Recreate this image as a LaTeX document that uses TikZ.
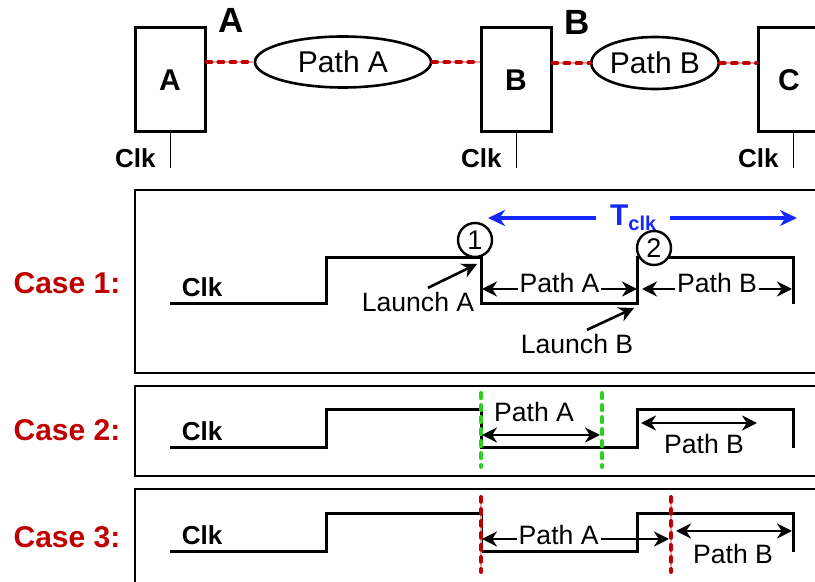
\documentclass[tikz,border=0pt]{standalone}
\usepackage{fontspec}
\setmainfont{Liberation Sans}
\usetikzlibrary{arrows.meta,shapes.geometric}

\definecolor{wirered}{RGB}{192,0,0}
\definecolor{tblue}{RGB}{20,40,255}
\definecolor{mkgreen}{RGB}{40,210,30}

\begin{document}
\begin{tikzpicture}[x=0.5pt, y=-0.5pt, >={Stealth[length=7.5pt, width=7.5pt, inset=2.4pt]},
    reg/.style={draw, line width=1.5pt, minimum width=35pt, minimum height=52pt, inner sep=0pt, font=\bfseries\fontsize{15}{18}\selectfont},
    pathell/.style={draw, ellipse, line width=1.3pt, inner sep=0pt, font=\fontsize{15}{18}\selectfont},
    wire/.style={wirered, line width=2pt, line cap=round, dash pattern=on 2.4pt off 3.6pt,
        preaction={draw=wirered!35, line width=0.6pt, solid}},
    gdash/.style={mkgreen, line width=2pt, line cap=round, dash pattern=on 2.6pt off 3.4pt},
    lead/.style={line width=0.5pt},
    clklbl/.style={font=\bfseries\fontsize{13}{15}\selectfont, inner sep=0pt},
    caselbl/.style={font=\bfseries\fontsize{15}{18}\selectfont, text=wirered},
    panel/.style={line width=1.4pt},
    wave/.style={line width=1.5pt},
    dim/.style={line width=1.3pt, <->},
    lbl/.style={font=\fontsize{13.3}{16}\selectfont, inner sep=1pt},
    circ/.style={draw, circle, fill=white, line width=1.2pt, minimum size=17pt, inner sep=0pt, font=\fontsize{13.5}{16}\selectfont}]

    \clip (0,0) rectangle (815,582);

    % Registers and paths
    \node[reg] (regA) at (170,80) {A};
    \node[reg] (regB) at (516,80) {B};
    \node[reg] (regC) at (793,80) {\hspace*{-4pt}C};
    \node[pathell, minimum width=88pt, minimum height=25.5pt] (pA) at (343,62) {Path A};
    \node[pathell, minimum width=63pt, minimum height=26pt] (pB) at (655,63) {Path B};
    \node[font=\bfseries\fontsize{17.5}{20}\selectfont] (lblA) at (231,20) {A};
    \node[font=\bfseries\fontsize{17.5}{20}\selectfont] (lblB) at (577,22) {B};

    % Dashed wires
    \draw[wire] (regA.east |- pA.west) -- (pA.west);
    \draw[wire] (pA.east) -- (regB.west |- pA.east);
    \draw[wire] (regB.east |- pB.west) -- (pB.west);
    \draw[wire] (pB.east) -- (regC.west |- pB.east);

    % Clock leads
    \foreach \r in {regA, regB, regC} {
        \draw[lead] (\r.south) -- ++(0,35) node[pos=0.72, left=7pt, clklbl] (clk\r) {Clk};
    }

    % Panels
    \draw[panel] (135,190) rectangle (840,373);
    \draw[panel] (135,386) rectangle (840,476);
    \draw[panel] (135,489) rectangle (840,600);
    \node[caselbl] (case1) at (67,283) {Case 1:};
    \node[caselbl] (case2) at (67,430) {Case 2:};
    \node[caselbl] (case3) at (67,537) {Case 3:};

    % Clock waveforms
    \foreach \lo/\hi/\n in {304/258/1, 448/410/2, 552/514/3} {
        \draw[wave] (170,\lo) -- (326,\lo) -- (326,\hi) -- (481,\hi) -- (481,\lo)
            -- (637,\lo) -- (637,\hi) -- (793,\hi) -- (793,\lo);
        \node[clklbl] (wclk\n) at (202,{\lo-17}) {Clk};
    }

    % Case 1
    \draw[tblue, line width=1.6pt, <->, >={Stealth[length=8.5pt, width=8pt, inset=2.7pt]}] (488,218) -- (797,218)
        node[pos=0.47, fill=white, inner xsep=7pt, inner ysep=2pt, font=\bfseries\fontsize{15}{18}\selectfont] (tclk)
        {T\raisebox{-2.5pt}{\fontsize{10}{12}\selectfont clk}};
    \node[circ] (edge1) at (475,240) {1};
    \node[circ] (edge2) at (654,248) {2};
    \node[lbl] (launchA) at (418,302) {Launch A};
    \node[lbl] (launchB) at (577,344) {Launch B};
    \coordinate (fallA) at (481,258);
    \coordinate (riseB) at (637,304);
    \draw[line width=1.3pt, ->] ([xshift=5pt, yshift=1pt]launchA.north) -- ([shift={(-4,6)}]fallA);
    \draw[line width=1.3pt, ->] ([xshift=5pt, yshift=1pt]launchB.north) -- ([shift={(-3,4)}]riseB);
    \draw[dim] (482,289) -- (637,289) node[midway, fill=white, lbl, yshift=3pt] (dA1) {Path A};
    \draw[dim] (642,289) -- (792,289) node[midway, fill=white, lbl, yshift=3pt] (dB1) {Path B};

    % Case 2
    \draw[gdash] (481,393) -- (481,467);
    \draw[gdash] (602,393) -- (602,467);
    \draw[dim] (482,435) -- (600,435);
    \node[lbl] (dA2) at (534,412) {Path A};
    \draw[dim] (641,423) -- (757,423);
    \node[lbl] (dB2) at (704,444) {Path B};

    % Case 3
    \draw[dim] (482,539) -- (669,539) node[pos=0.41, fill=white, lbl, yshift=2pt] (dA3) {Path A};
    \draw[dim] (676,531) -- (792,531);
    \node[lbl] (dB3) at (733,554) {Path B};
    \draw[wire] (481,497) -- (481,572);
    \draw[wire] (671,497) -- (671,572);
\end{tikzpicture}
\end{document}
